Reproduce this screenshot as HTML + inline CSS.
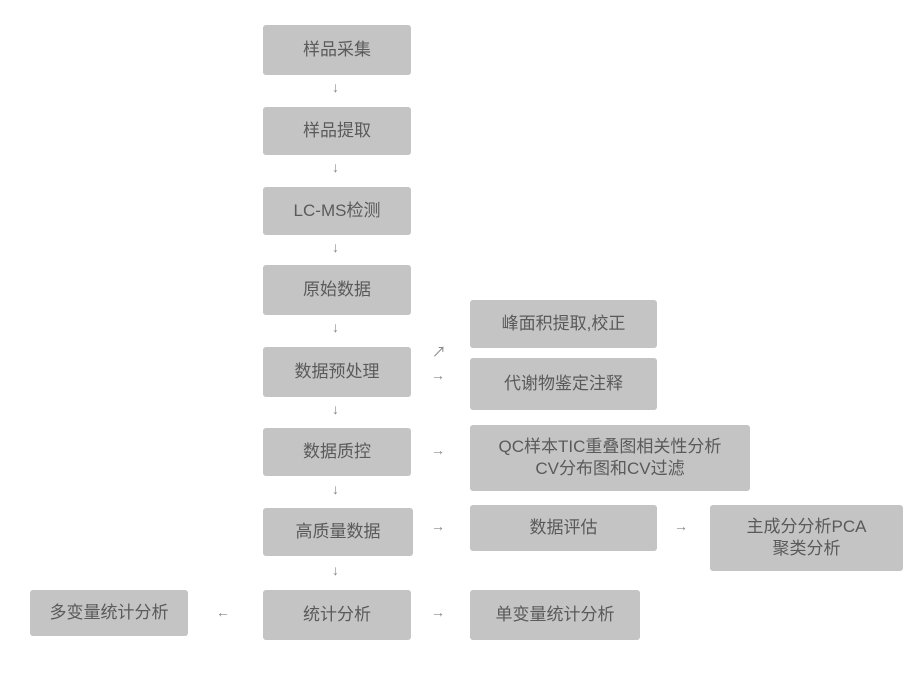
<!DOCTYPE html>
<html><head><meta charset="utf-8"><style>
body{margin:0;width:922px;height:677px;background:#fff;position:relative;overflow:hidden;font-family:"Liberation Sans","Noto Sans CJK SC",sans-serif;}
.b{position:absolute;background:#c4c4c4;color:#5a5a5a;font-size:17px;display:flex;align-items:center;justify-content:center;text-align:center;line-height:22px;border-radius:3px;}
.a{position:absolute;color:#888;font-size:14px;line-height:14px;}
</style></head><body>
<div class="b" style="left:263px;top:25px;width:148px;height:50px">样品采集</div>
<div class="b" style="left:263px;top:107px;width:148px;height:48px">样品提取</div>
<div class="b" style="left:263px;top:187px;width:148px;height:48px">LC-MS检测</div>
<div class="b" style="left:263px;top:265px;width:148px;height:50px">原始数据</div>
<div class="b" style="left:263px;top:347px;width:148px;height:50px">数据预处理</div>
<div class="b" style="left:263px;top:428px;width:148px;height:48px">数据质控</div>
<div class="b" style="left:263px;top:508px;width:150px;height:48px">高质量数据</div>
<div class="b" style="left:263px;top:590px;width:148px;height:50px">统计分析</div>
<div class="b" style="left:470px;top:300px;width:187px;height:48px">峰面积提取,校正</div>
<div class="b" style="left:470px;top:358px;width:187px;height:52px">代谢物鉴定注释</div>
<div class="b" style="left:470px;top:425px;width:280px;height:66px">QC样本TIC重叠图相关性分析<br>CV分布图和CV过滤</div>
<div class="b" style="left:470px;top:505px;width:187px;height:46px">数据评估</div>
<div class="b" style="left:710px;top:505px;width:193px;height:66px">主成分分析PCA<br>聚类分析</div>
<div class="b" style="left:470px;top:590px;width:170px;height:50px">单变量统计分析</div>
<div class="b" style="left:30px;top:590px;width:158px;height:46px">多变量统计分析</div>
<div class="a" style="left:332px;top:80px">↓</div>
<div class="a" style="left:332px;top:160px">↓</div>
<div class="a" style="left:332px;top:240px">↓</div>
<div class="a" style="left:332px;top:320px">↓</div>
<div class="a" style="left:332px;top:402px">↓</div>
<div class="a" style="left:332px;top:482px">↓</div>
<div class="a" style="left:332px;top:563px">↓</div>
<div class="a" style="left:432px;top:345px">↗</div>
<div class="a" style="left:431px;top:368px">→</div>
<div class="a" style="left:431px;top:443px">→</div>
<div class="a" style="left:431px;top:519px">→</div>
<div class="a" style="left:674px;top:519px">→</div>
<div class="a" style="left:431px;top:605px">→</div>
<div class="a" style="left:216px;top:605px">←</div>
</body></html>
